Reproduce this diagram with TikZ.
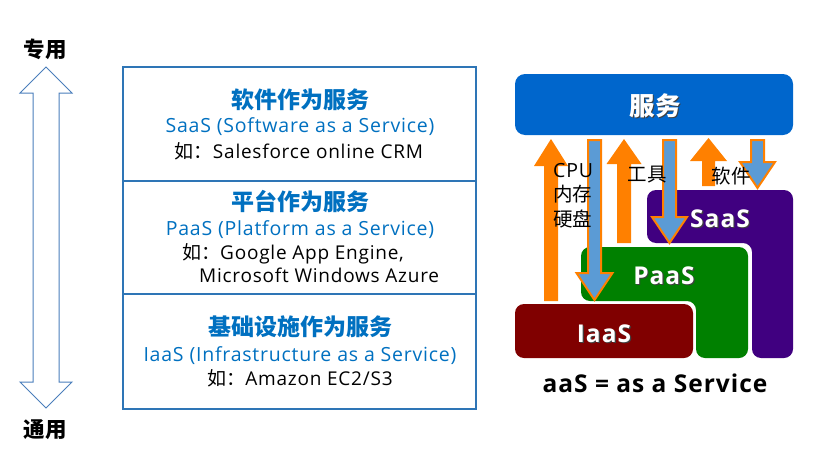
\documentclass[tikz,border=0pt]{standalone}
\usepackage{fontspec}
\setmainfont{Open Sans}[LetterSpace=4]
\newfontfamily\cjk{Noto Sans CJK SC}
\definecolor{tblue}{HTML}{0070C0}
\definecolor{lineblue}{HTML}{2E75B6}
\definecolor{arrblue}{HTML}{5B9BD5}
\definecolor{dblarr}{HTML}{4A7EBB}
\definecolor{svcblue}{HTML}{0066CC}
\definecolor{saascol}{HTML}{400080}
\definecolor{paascol}{HTML}{008000}
\definecolor{iaascol}{HTML}{800000}
\definecolor{orng}{HTML}{FF8000}
\newcommand\UpArr[6]{\fill[orng] (#1-#5,#4) -- (#1-#5,#3) -- (#1-#6,#3) -- (#1,#2) -- (#1+#6,#3) -- (#1+#5,#3) -- (#1+#5,#4) -- cycle;}
\newcommand\DnArr[6]{\filldraw[fill=arrblue,draw=orng,line width=2pt,line join=miter] (#1-#5,#2) -- (#1-#5,#3) -- (#1-#6,#3) -- (#1,#4) -- (#1+#6,#3) -- (#1+#5,#3) -- (#1+#5,#2) -- cycle;}
\tikzset{
  txt/.style={inner sep=0pt,anchor=base},
  ttl/.style={txt,text=tblue,font=\cjk\bfseries\fontsize{23}{27}\selectfont},
  sub/.style={txt,text=tblue,font=\fontsize{19.5}{23}\selectfont},
  ex/.style={txt,text=black,font=\fontsize{19}{23}\selectfont},
  side/.style={txt,font=\cjk\bfseries\fontsize{21.5}{25}\selectfont},
  big/.style={txt,text=white,font=\bfseries\fontsize{24.5}{28}\selectfont},
  bigsh/.style={txt,text=black!75,font=\bfseries\fontsize{24.5}{28}\selectfont},
  lbl/.style={txt,font=\cjk\fontsize{19.5}{23}\selectfont},
}
\begin{document}
\begin{tikzpicture}[x=1pt,y=-1pt]
\useasboundingbox (0,0) rectangle (820,458);
% left double arrow
\draw[dblarr,line width=1pt,line join=miter] (46,67) -- (72,93) -- (59,93) -- (59,382) -- (72,382) -- (46,408) -- (20,382) -- (33,382) -- (33,93) -- (20,93) -- cycle;
\node[side] (zy) at (45,57) {专用};
\node[side] (ty) at (45,437) {通用};
% table
\draw[lineblue,line width=1.8pt] (123,67) rectangle (476,409);
\draw[lineblue,line width=1.8pt] (123,181) -- (476,181);
\draw[lineblue,line width=1.8pt] (123,294) -- (476,294);
\node[ttl] (t1) at (300,108.5) {软件作为服务};
\node[sub] (s1) at (300,132.7) {SaaS (Software as a Service)};
\node[ex] (e1) at (299,158) {{\cjk 如：}Salesforce online CRM};
\node[ttl] (t2) at (300,210.5) {平台作为服务};
\node[sub] (s2) at (300,235) {PaaS (Platform as a Service)};
\node[ex,anchor=base west] (e2a) at (182,259.3) {{\cjk 如：}Google App Engine,};
\node[ex,anchor=base west] (e2b) at (199,282.7) {Microsoft Windows Azure};
\node[ttl] (t3) at (300,335.5) {基础设施作为服务};
\node[sub] (s3) at (300,361) {IaaS (Infrastructure as a Service)};
\node[ex] (e3) at (300,385) {{\cjk 如：}Amazon EC2/S3};
% right diagram
\fill[svcblue,rounded corners=10pt] (515,74) rectangle (793,135);
\fill[saascol,rounded corners=9pt] (647,190) -- (793,190) -- (793,358) -- (752,358) -- (752,243) -- (647,243) -- cycle;
\fill[paascol,rounded corners=9pt] (581,247) -- (748,247) -- (748,358) -- (696,358) -- (696,301) -- (581,301) -- cycle;
\fill[iaascol,rounded corners=9pt] (515,304) rectangle (693,358);
\node[txt,text=black!75,font=\cjk\bfseries\fontsize{25.5}{29}\selectfont] (fwsh) at (656.2,116.2) {服务};
\node[txt,text=white,font=\cjk\bfseries\fontsize{25.5}{29}\selectfont] (fw) at (655,115) {服务};
\node[bigsh] (ssh) at (721.2,228.2) {SaaS};
\node[big] (ss) at (720,227) {SaaS};
\node[bigsh] (psh) at (665.2,285.2) {PaaS};
\node[big] (ps) at (664,284) {PaaS};
\node[bigsh] (ish) at (605.2,343.2) {IaaS};
\node[big] (is) at (604,342) {IaaS};
% arrows
\UpArr{551}{139}{166}{301}{7}{17}
\UpArr{624}{139}{164}{243}{7}{17.5}
\UpArr{708.5}{138}{161}{186}{6.5}{18.5}
\DnArr{594.5}{140}{273}{300}{6.5}{18}
\DnArr{669.5}{140}{217}{243}{6.5}{17.5}
\DnArr{757.5}{140}{162}{188}{6.5}{17.5}
% labels
\node[txt,anchor=base west,font=\fontsize{19.5}{23}\selectfont] (cpu) at (553,177) {CPU};
\node[lbl,anchor=base west] (nc) at (553,201) {内存};
\node[lbl,anchor=base west] (yp) at (553,226) {硬盘};
\node[lbl] (gj) at (647,181) {工具};
\node[lbl] (rj) at (731,183) {软件};
\node[txt,font=\bfseries\fontsize{24.5}{28}\selectfont] (aas) at (655,392) {aaS = as a Service};
\end{tikzpicture}
\end{document}
